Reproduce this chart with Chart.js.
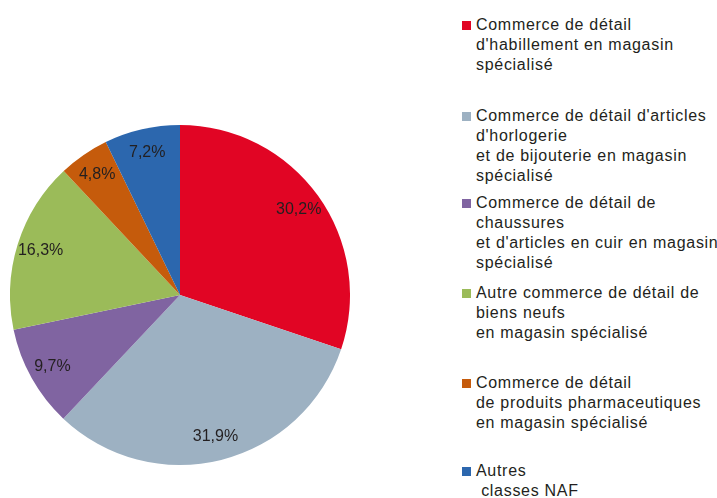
<!DOCTYPE html>
<html>
<head>
<meta charset="utf-8">
<script src="https://cdn.jsdelivr.net/npm/chart.js@4"></script>
<style>
  body { margin: 0; background: #fff; width: 717px; height: 498px; overflow: hidden; position: relative;
         font-family: "Liberation Sans", Arial, sans-serif; color: #231f20; }
  #pieBox { position: absolute; left: 10px; top: 125px; width: 340px; height: 340px; }
  .leg { position: absolute; left: 476px; font-size: 16px; line-height: 20px; letter-spacing: 0.7px; white-space: pre; }
  .leg i { position: absolute; left: -14px; top: 6px; width: 9px; height: 9px; }
</style>
</head>
<body>
<div id="pieBox"><canvas id="pie"></canvas></div>
<div id="legend"></div>
<script>
const categories = [
  ['Commerce de détail', "d'habillement en magasin", 'spécialisé'],
  ["Commerce de détail d'articles", "d'horlogerie", 'et de bijouterie en magasin', 'spécialisé'],
  ['Commerce de détail de', 'chaussures', "et d'articles en cuir en magasin", 'spécialisé'],
  ['Autre commerce de détail de', 'biens neufs', 'en magasin spécialisé'],
  ['Commerce de détail', 'de produits pharmaceutiques', 'en magasin spécialisé'],
  ['Autres', ' classes NAF']
];
const shares = [30.2, 31.9, 9.7, 16.3, 4.8, 7.2];
const colors = ['#e10524', '#9db1c2', '#8064a1', '#9bbb59', '#c55b0c', '#2c67ae'];

// legend placement (top of each entry, px)
const legendTops = [15, 106, 193, 283, 373, 461];

const legend = document.getElementById('legend');
categories.forEach((lines, i) => {
  const d = document.createElement('div');
  d.className = 'leg';
  d.style.top = legendTops[i] + 'px';
  d.innerHTML = '<i style="background:' + colors[i] + '"></i>';
  d.appendChild(document.createTextNode(lines.join('\n')));
  legend.appendChild(d);
});

const pctLabels = {
  id: 'pctLabels',
  afterDatasetsDraw(chart) {
    const ctx = chart.ctx;
    ctx.save();
    ctx.font = '16px "Liberation Sans", Arial, sans-serif';
    ctx.fillStyle = '#231f20';
    ctx.textAlign = 'center';
    ctx.textBaseline = 'middle';
    chart.getDatasetMeta(0).data.forEach((arc, i) => {
      const a = (arc.startAngle + arc.endAngle) / 2;
      const r = arc.outerRadius * 0.86;
      const txt = shares[i].toFixed(1).replace('.', ',') + '%';
      ctx.fillText(txt, arc.x + Math.cos(a) * r, arc.y + Math.sin(a) * r);
    });
    ctx.restore();
  }
};

new Chart(document.getElementById('pie').getContext('2d'), {
  type: 'pie',
  data: {
    labels: categories.map(l => l.join(' ')),
    datasets: [{
      data: shares,
      backgroundColor: colors,
      borderWidth: 0
    }]
  },
  options: {
    responsive: true,
    maintainAspectRatio: false,
    animation: false,
    layout: { padding: 0 },
    plugins: { legend: { display: false }, tooltip: { enabled: false } }
  },
  plugins: [pctLabels]
});
</script>
</body>
</html>
